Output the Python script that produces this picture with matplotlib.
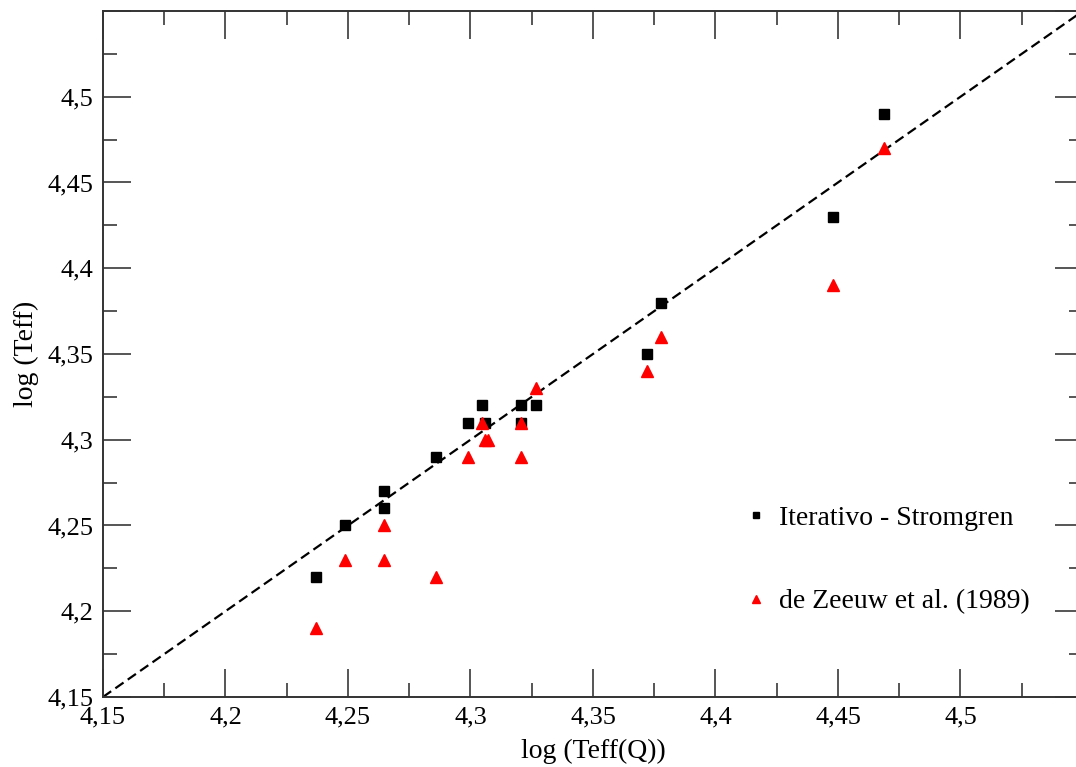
import matplotlib
matplotlib.use("Agg")
import matplotlib.pyplot as plt
from matplotlib.ticker import MultipleLocator, FuncFormatter

plt.rcParams['font.family'] = ['Liberation Serif', 'DejaVu Serif']

# data
teff_q = [4.2369, 4.2488, 4.2647, 4.2647, 4.2859, 4.2990, 4.3047, 4.3059,
          4.3206, 4.3206, 4.3267, 4.3720, 4.3778, 4.4480, 4.4688]
iterativo = [4.22, 4.25, 4.27, 4.26, 4.29, 4.31, 4.32, 4.31,
             4.32, 4.31, 4.32, 4.35, 4.38, 4.43, 4.49]
dezeeuw = [4.19, 4.23, 4.25, 4.23, 4.22, 4.29, 4.31, 4.30,
           4.31, 4.29, 4.33, 4.34, 4.36, 4.39, 4.47]
extra_x = [4.3070]
extra_y = [4.30]
lims = [4.15, 4.55]


def comma_fmt(v, p):
    # no label on the 4,55 end ticks, decimal comma elsewhere
    if v > 4.545:
        return ''
    return ('%g' % round(v, 3)).replace('.', ',')


fig = plt.figure(figsize=(10.76, 7.67), dpi=100)
# the right spine sits just past the image edge, as in the reference
ax = fig.add_axes([0.0957, 0.0913, 0.9108, 0.8944])

ax.plot(lims, lims, color='black', linestyle=(0, (4.5, 2.3)), linewidth=1.6, zorder=1)
ax.plot(teff_q, iterativo, linestyle='none', marker='s', color='black',
        markersize=6.5, label='Iterativo - Stromgren', zorder=2)
ax.plot(teff_q, dezeeuw, linestyle='none', marker='^', color='red',
        markersize=8, label='de Zeeuw et al. (1989)', zorder=3)
ax.plot(extra_x, extra_y, linestyle='none', marker='^', color='red',
        markersize=8, zorder=3)

ax.set_xlim(lims)
ax.set_ylim(lims)
for axis in (ax.xaxis, ax.yaxis):
    axis.set_major_locator(MultipleLocator(0.05))
    axis.set_minor_locator(MultipleLocator(0.025))
    axis.set_major_formatter(FuncFormatter(comma_fmt))
ax.tick_params(which='both', direction='in', top=True, right=True,
               labelsize=19, color='#555555', width=1.4)
ax.tick_params(which='major', length=20, pad=7)
ax.tick_params(which='minor', length=10)
for s in ax.spines.values():
    s.set_color('#333333')
    s.set_linewidth(1.4)

ax.set_xlabel('log (Teff(Q))', fontsize=20, labelpad=7)
ax.set_ylabel('log (Teff)', fontsize=20, labelpad=6)

ax.legend(loc='center left', bbox_to_anchor=(0.632, 0.20), frameon=False,
          fontsize=20, labelspacing=2.1, handlelength=0.6, handletextpad=0.55,
          markerscale=0.75)

plt.savefig('out.png', dpi=100)
